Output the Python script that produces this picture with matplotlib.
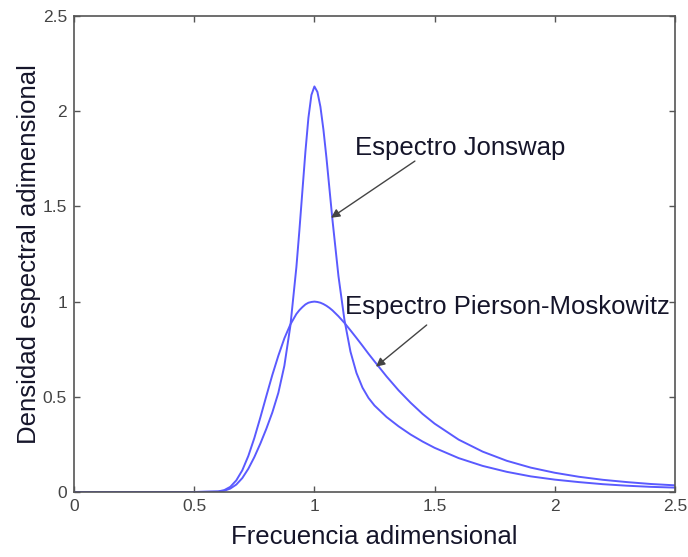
import matplotlib
matplotlib.use("Agg")
from matplotlib import pyplot as plt

# frecuencia adimensional (w/wp)
freq = [0.0, 0.5,
        0.6, 0.625, 0.65, 0.675, 0.7, 0.725, 0.75, 0.775, 0.8, 0.825,
        0.85, 0.875, 0.9,
        0.925, 0.9375, 0.95, 0.9625, 0.975, 0.9875, 1.0, 1.0125, 1.025,
        1.0375, 1.05, 1.0625, 1.075,
        1.1, 1.125, 1.15, 1.175, 1.2, 1.225, 1.25,
        1.3, 1.35, 1.4, 1.45, 1.5,
        1.6, 1.7, 1.8, 1.9, 2.0, 2.1, 2.2, 2.3, 2.4, 2.5]

# espectro Pierson-Moskowitz
pm = [0.0, 0.0,
      0.003, 0.010, 0.027, 0.061, 0.114, 0.189, 0.283, 0.391, 0.504, 0.615,
      0.716, 0.807, 0.880,
      0.935, 0.955, 0.971, 0.985, 0.994, 0.998, 1.0, 0.998, 0.994,
      0.987, 0.978, 0.967, 0.954,
      0.923, 0.888, 0.849, 0.809, 0.768, 0.726, 0.686,
      0.607, 0.534, 0.469, 0.410, 0.359,
      0.275, 0.212, 0.164, 0.128, 0.101, 0.080, 0.064, 0.052, 0.042, 0.035]

# espectro Jonswap
jonswap = [0.0, 0.0,
           0.002, 0.0065, 0.018, 0.039, 0.073, 0.122, 0.183, 0.254, 0.332,
           0.418, 0.521, 0.663, 0.873,
           1.181, 1.374, 1.581, 1.787, 1.965, 2.085, 2.13, 2.101, 2.023,
           1.903, 1.756, 1.593, 1.430,
           1.134, 0.903, 0.737, 0.625, 0.548, 0.494, 0.454,
           0.394, 0.345, 0.302, 0.265, 0.232,
           0.178, 0.137, 0.106, 0.082, 0.065, 0.052, 0.041, 0.033, 0.027,
           0.023]

ticks = [0, 0.5, 1, 1.5, 2, 2.5]
tick_labels = ["0", "0.5", "1", "1.5", "2", "2.5"]

plt.rcParams['font.family'] = ['Liberation Sans', 'DejaVu Sans']

fig = plt.figure(figsize=(6.88, 5.57), dpi=100)
ax = fig.add_axes([0.1076, 0.1167, 0.8735, 0.8546])

line_color = "#5a5aff"
ax.plot(freq, pm, color=line_color, lw=1.4)
ax.plot(freq, jonswap, color=line_color, lw=1.4)

ax.set_xlim(0, 2.5)
ax.set_ylim(0, 2.5)
ax.set_xticks(ticks)
ax.set_xticklabels(tick_labels)
ax.set_yticks(ticks)
ax.set_yticklabels(tick_labels)
ax.tick_params(direction="in", length=4, width=1, colors="#555555",
               labelcolor="#444444", labelsize=12.5, top=True, right=True,
               pad=5)
for s in ax.spines.values():
    s.set_color("#555555")
    s.set_linewidth(1.2)

txt_color = "#15152a"
ax.set_xlabel("Frecuencia adimensional", fontsize=18.5, color=txt_color,
              labelpad=8)
ax.set_ylabel("Densidad espectral adimensional", fontsize=18.5,
              color=txt_color, labelpad=1)

arrow = dict(arrowstyle="-|>", color="#444444", lw=1.0, mutation_scale=13,
             shrinkA=0, shrinkB=0)
ax.annotate("", xy=(1.069, 1.44), xytext=(1.418, 1.738), arrowprops=arrow)
ax.annotate("", xy=(1.256, 0.658), xytext=(1.467, 0.877), arrowprops=arrow)
ax.text(1.169, 1.807, "Espectro Jonswap", fontsize=18.5, color=txt_color,
        va="center", ha="left")
ax.text(1.127, 0.972, "Espectro Pierson-Moskowitz", fontsize=18.5,
        color=txt_color, va="center", ha="left")

fig.savefig("out.png", dpi=100)
